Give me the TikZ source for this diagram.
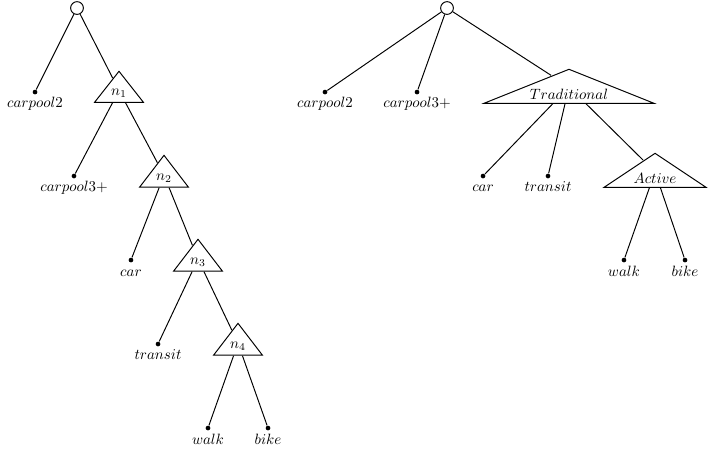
\documentclass[tikz,border=0pt]{standalone}
\usetikzlibrary{shapes.geometric,calc}

\begin{document}
\begin{tikzpicture}[
  line width=0.65pt,
  root/.style={circle,draw,fill=white,inner sep=0pt,minimum size=0.3cm},
  leaf/.style={circle,fill=black,inner sep=0pt,minimum size=0.11cm},
  tri/.style={isosceles triangle,shape border rotate=90,isosceles triangle stretches,
    draw,inner sep=0pt,anchor=apex},
  lbl/.style={below=1pt,text height=1.5ex,text depth=.25ex,inner sep=1pt},
]
\useasboundingbox (0,0) rectangle (16.8,10.66);
% nested tree
\node[root] (rootL) at (1.812,10.471) {};
\node[leaf] (c2L) at (0.824,8.494) {};
\node[lbl] at (c2L.south) {$carpool2$};
\node[tri,minimum width=1.15cm,minimum height=0.73cm] (n1) at (2.8,9.012) {};
\node at ($(n1.apex)!0.72!(n1.lower side)$) {$n_1$};
\node[leaf] (c3L) at (1.741,6.518) {};
\node[lbl] at (c3L.south) {$carpool3+$};
\node[tri,minimum width=1.15cm,minimum height=0.75cm] (n2) at (3.859,7.035) {};
\node at ($(n2.apex)!0.72!(n2.lower side)$) {$n_2$};
\node[leaf] (carL) at (3.082,4.541) {};
\node[lbl] at (carL.south) {$car$};
\node[tri,minimum width=1.15cm,minimum height=0.75cm] (n3) at (4.659,5.059) {};
\node at ($(n3.apex)!0.72!(n3.lower side)$) {$n_3$};
\node[leaf] (trL) at (3.718,2.565) {};
\node[lbl] at (trL.south) {$transit$};
\node[tri,minimum width=1.15cm,minimum height=0.75cm] (n4) at (5.6,3.082) {};
\node at ($(n4.apex)!0.72!(n4.lower side)$) {$n_4$};
\node[leaf] (walkL) at (4.894,0.588) {};
\node[lbl] at (walkL.south) {$walk$};
\node[leaf] (bikeL) at (6.306,0.588) {};
\node[lbl] at (bikeL.south) {$bike$};
\draw (rootL) -- (c2L);
\draw (rootL) -- (n1);
\draw (n1) -- (c3L);
\draw (n1) -- (n2);
\draw (n2) -- (carL);
\draw (n2) -- (n3);
\draw (n3) -- (trL);
\draw (n3) -- (n4);
\draw (n4) -- (walkL);
\draw (n4) -- (bikeL);
% grouped tree
\node[root] (rootR) at (10.518,10.471) {};
\node[leaf] (c2R) at (7.647,8.494) {};
\node[lbl] at (c2R.south) {$carpool2$};
\node[leaf] (c3R) at (9.812,8.494) {};
\node[lbl] at (c3R.south) {$carpool3+$};
\node[tri,minimum width=4.0cm,minimum height=0.8cm] (trad) at (13.388,9.059) {};
\node at ($(trad.apex)!0.73!(trad.lower side)$) {$Traditional$};
\node[leaf] (carR) at (11.365,6.518) {};
\node[lbl] at (carR.south) {$car$};
\node[leaf] (trR) at (12.894,6.518) {};
\node[lbl] at (trR.south) {$transit$};
\node[tri,minimum width=2.4cm,minimum height=0.8cm] (act) at (15.412,7.082) {};
\node at ($(act.apex)!0.73!(act.lower side)$) {$Active$};
\node[leaf] (walkR) at (14.682,4.541) {};
\node[lbl] at (walkR.south) {$walk$};
\node[leaf] (bikeR) at (16.118,4.541) {};
\node[lbl] at (bikeR.south) {$bike$};
\draw (rootR) -- (c2R);
\draw (rootR) -- (c3R);
\draw (rootR) -- (trad);
\draw (trad) -- (carR);
\draw (trad) -- (trR);
\draw (trad) -- (act);
\draw (act) -- (walkR);
\draw (act) -- (bikeR);
\end{tikzpicture}
\end{document}
